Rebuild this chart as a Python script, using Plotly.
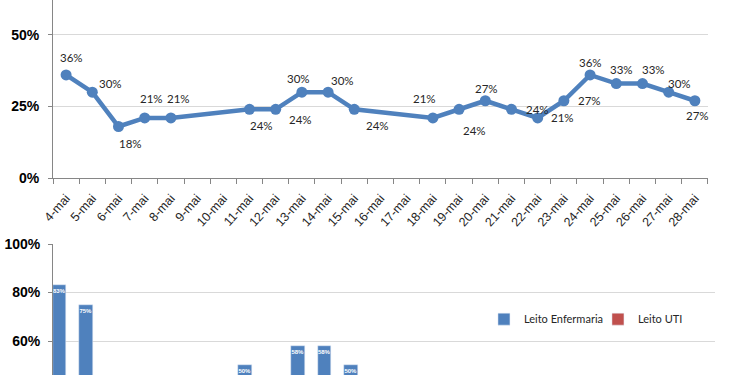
import plotly.graph_objects as go

# ---- data ----
dias = ["4-mai", "5-mai", "6-mai", "7-mai", "8-mai", "9-mai", "10-mai", "11-mai",
        "12-mai", "13-mai", "14-mai", "15-mai", "16-mai", "17-mai", "18-mai",
        "19-mai", "20-mai", "21-mai", "22-mai", "23-mai", "24-mai", "25-mai",
        "26-mai", "27-mai", "28-mai"]

ocupacao = [0.36, 0.30, 0.18, 0.21, 0.21, None, None, 0.24, 0.24, 0.30, 0.30, 0.24,
            None, None, 0.21, 0.24, 0.27, 0.24, 0.21, 0.27, 0.36, 0.33, 0.33, 0.30, 0.27]

leito_enfermaria = [0.83, 0.75, None, None, None, None, None, 0.50, None, 0.58, 0.58, 0.50,
                    None, None, None, None, None, None, None, None, None, None, None, None, None]
leito_uti = [None] * len(dias)

# ---- data-label offsets in px (style only) ----
label_dx = [5, 18, 12, 7, 8, 0, 0, 12, 25, -3, 14, 23, 0, 0, -8, 15, 1, 26, 25, 26, 0, 5, 11, 11, 3]
label_dy = [17, 9, -17, 19, 19, 0, 0, -16, -10, 14, 12, -16, 0, 0, 19, -21, 12, 0, 0, 0, 12, 14, 14, 9, -15]

BLUE = "#4F81BD"
RED = "#C0504D"
GRID = "#D9D9D9"
AXIS = "#868686"

fig = go.Figure()

fig.add_trace(go.Scatter(
    x=dias, y=ocupacao, mode="lines+markers",
    connectgaps=True,
    line=dict(color=BLUE, width=4.5),
    marker=dict(color=BLUE, size=11),
    xaxis="x", yaxis="y", showlegend=False, cliponaxis=False,
))

for d, v, dx, dy in zip(dias, ocupacao, label_dx, label_dy):
    if v is None:
        continue
    fig.add_annotation(
        x=d, y=v, xref="x", yref="y", text="%d%%" % round(v * 100),
        showarrow=False, xshift=dx, yshift=dy,
        font=dict(family="Lato, Carlito, sans-serif", size=11.5, color="#262626"),
    )

fig.add_trace(go.Bar(
    x=dias, y=leito_enfermaria, name="Leito Enfermaria", marker_color=BLUE,
    text=[("%d%%" % round(v * 100)) if v is not None else "" for v in leito_enfermaria],
    textposition="inside", insidetextanchor="end", textangle=0, constraintext="none",
    textfont=dict(family="Liberation Sans, Arial", size=6, color="white", weight="bold"),
    xaxis="x2", yaxis="y2",
))
fig.add_trace(go.Bar(
    x=dias, y=leito_uti, name="Leito UTI", marker_color=RED,
    xaxis="x2", yaxis="y2",
))

tickfont_y = dict(family="Liberation Sans, Arial", size=14, color="#000000", weight="bold")
n = len(dias)

fig.update_layout(
    width=750, height=375,
    margin=dict(l=53, r=35, t=0, b=0, autoexpand=False),
    paper_bgcolor="white", plot_bgcolor="white",
    barmode="group", bargap=0, bargroupgap=0,
    xaxis=dict(domain=[0, 0.9894], anchor="y", type="category",
               categoryorder="array", categoryarray=dias, automargin=False,
               range=[-0.5, n - 0.5],
               showgrid=False, showline=True, linecolor=AXIS, linewidth=1,
               ticks="outside", tickson="boundaries", ticklen=5, tickcolor=AXIS,
               tickangle=-48, ticklabelstandoff=7,
               tickfont=dict(family="Liberation Sans, Arial", size=12.5, color="#262626")),
    yaxis=dict(domain=[0.5253, 1], anchor="x", range=[0, 0.622], automargin=False,
               tickvals=[0, 0.25, 0.5], tickformat=".0%",
               showgrid=True, gridcolor=GRID, gridwidth=1,
               showline=True, linecolor=AXIS, linewidth=1,
               ticks="outside", ticklen=4, tickcolor=AXIS,
               ticklabelstandoff=6, zeroline=False,
               tickfont=tickfont_y),
    xaxis2=dict(domain=[0, 1], anchor="y2", type="category", automargin=False,
                categoryorder="array", categoryarray=dias,
                range=[-0.5, n - 0.5],
                visible=False),
    yaxis2=dict(domain=[0, 0.3493], anchor="x2", range=[0.46, 1.0], automargin=False,
                tickvals=[0.6, 0.8, 1.0], tickformat=".0%",
                showgrid=True, gridcolor=GRID, gridwidth=1,
                showline=True, linecolor=AXIS, linewidth=1,
                ticks="outside", ticklen=4, tickcolor=AXIS,
                ticklabelstandoff=5, zeroline=False,
                tickfont=tickfont_y),
    legend=dict(orientation="h", x=0.651, xanchor="left", y=0.149, yanchor="middle",
                font=dict(family="Lato, Carlito, sans-serif", size=11, color="#262626"),
                bgcolor="rgba(0,0,0,0)", itemwidth=30, tracegroupgap=0,
                entrywidth=69, entrywidthmode="pixels"),
    showlegend=True,
)

fig.write_html("out.html", config={"displayModeBar": False},
               post_script="document.body.style.margin='0';document.body.style.overflow='hidden';")
